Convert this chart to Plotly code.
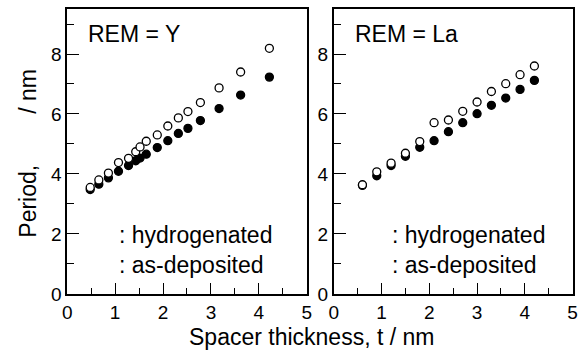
import plotly.graph_objects as go

# ---- data: REM = Y panel ----
y_t_hyd = [0.48, 0.66, 0.86, 1.07, 1.28, 1.43, 1.52, 1.65, 1.88, 2.10, 2.32, 2.52, 2.78, 3.17, 3.62, 4.22]
y_p_hyd = [3.55, 3.80, 4.03, 4.38, 4.52, 4.74, 4.90, 5.09, 5.30, 5.60, 5.87, 6.08, 6.38, 6.87, 7.40, 8.19]
y_t_dep = [0.48, 0.66, 0.86, 1.07, 1.28, 1.43, 1.52, 1.65, 1.88, 2.10, 2.32, 2.52, 2.78, 3.17, 3.62, 4.22]
y_p_dep = [3.48, 3.66, 3.87, 4.09, 4.28, 4.44, 4.53, 4.66, 4.88, 5.11, 5.35, 5.52, 5.78, 6.18, 6.63, 7.23]

# ---- data: REM = La panel ----
la_t = [0.6, 0.9, 1.2, 1.5, 1.8, 2.1, 2.4, 2.7, 3.0, 3.3, 3.6, 3.9, 4.2]
la_p_hyd = [3.64, 4.07, 4.36, 4.69, 5.08, 5.71, 5.80, 6.09, 6.40, 6.75, 7.01, 7.31, 7.60]
la_p_dep = [3.62, 3.94, 4.28, 4.59, 4.89, 5.11, 5.41, 5.71, 6.01, 6.29, 6.53, 6.82, 7.12]

panel_labels = ["REM = Y", "REM = La"]
legend_labels = [":\u00a0hydrogenated", ":\u00a0as-deposited"]
x_title = "Spacer thickness, t / nm"
y_title = "Period," + "\u00a0" * 8 + "/ nm"

W, H = 584, 356
FONT = "Arial, 'Liberation Sans', Helvetica, sans-serif"

fig = go.Figure()

def add_panel(xa, ya, t_dep, p_dep, t_hyd, p_hyd):
    fig.add_trace(go.Scatter(x=t_dep, y=p_dep, mode="markers", xaxis=xa, yaxis=ya,
                             marker=dict(symbol="circle", size=8, color="black",
                                         line=dict(color="black", width=1.3)),
                             showlegend=False))
    fig.add_trace(go.Scatter(x=t_hyd, y=p_hyd, mode="markers", xaxis=xa, yaxis=ya,
                             marker=dict(symbol="circle", size=8, color="white",
                                         line=dict(color="black", width=1.3)),
                             showlegend=False))

add_panel("x", "y", y_t_dep, y_p_dep, y_t_hyd, y_p_hyd)
add_panel("x2", "y2", la_t, la_p_dep, la_t, la_p_hyd)

y0, y1 = 303.3, 9.3
ydom = [(H - y0) / H, (H - y1) / H]
xdom1 = [63.3 / W, 307.0 / W]
xdom2 = [334.5 / W, 577.5 / W]

xcommon = dict(range=[0, 5], dtick=1, tick0=0, ticks="inside", ticklen=11, tickwidth=1.3,
               tickcolor="black", showline=True, linecolor="black", linewidth=1.8, mirror=True,
               showgrid=False, zeroline=False,
               minor=dict(dtick=0.5, ticks="inside", ticklen=6, tickwidth=1.3, tickcolor="black"),
               tickfont=dict(family=FONT, size=19, color="black"))
ycommon = dict(range=[0, 9.5], dtick=2, tick0=0, ticks="inside", ticklen=12, tickwidth=1.3,
               tickcolor="black", showline=True, linecolor="black", linewidth=1.8, mirror=True,
               showgrid=False, zeroline=False,
               minor=dict(dtick=1, ticks="inside", ticklen=7, tickwidth=1.3, tickcolor="black"),
               tickfont=dict(family=FONT, size=19, color="black"))

fig.update_layout(
    width=W, height=H,
    margin=dict(l=0, r=0, t=0, b=0),
    paper_bgcolor="white", plot_bgcolor="white",
    xaxis=dict(domain=xdom1, anchor="y", **xcommon),
    yaxis=dict(domain=ydom, anchor="x", **ycommon),
    xaxis2=dict(domain=xdom2, anchor="y2", **xcommon),
    yaxis2=dict(domain=ydom, anchor="x2", **ycommon),
    font=dict(family=FONT, color="black"),
)

ann = []
# panel labels
ann.append(dict(x=0.40, y=8.66, xref="x", yref="y", text=panel_labels[0], showarrow=False,
                xanchor="left", yanchor="middle", font=dict(size=23, family=FONT, color="black")))
ann.append(dict(x=0.40, y=8.66, xref="x2", yref="y2", text=panel_labels[1], showarrow=False,
                xanchor="left", yanchor="middle", font=dict(size=23, family=FONT, color="black")))
# series labels
for xr, yr, xs in [("x", "y", 1.04), ("x2", "y2", 1.18)]:
    ann.append(dict(x=xs, y=1.96, xref=xr, yref=yr, text=legend_labels[0], showarrow=False,
                    xanchor="left", yanchor="middle", font=dict(size=23, family=FONT, color="black")))
    ann.append(dict(x=xs, y=0.98, xref=xr, yref=yr, text=legend_labels[1], showarrow=False,
                    xanchor="left", yanchor="middle", font=dict(size=23, family=FONT, color="black")))
# axis titles
ann.append(dict(x=312 / W, y=(H - 348) / H, xref="paper", yref="paper", text=x_title,
                showarrow=False, xanchor="center", yanchor="middle",
                font=dict(size=23, family=FONT, color="black")))
ann.append(dict(x=24 / W, y=(H - 158) / H, xref="paper", yref="paper", text=y_title,
                showarrow=False, xanchor="center", yanchor="middle", textangle=-90,
                font=dict(size=23, family=FONT, color="black")))
fig.update_layout(annotations=ann)

fig.write_html("out.html")
